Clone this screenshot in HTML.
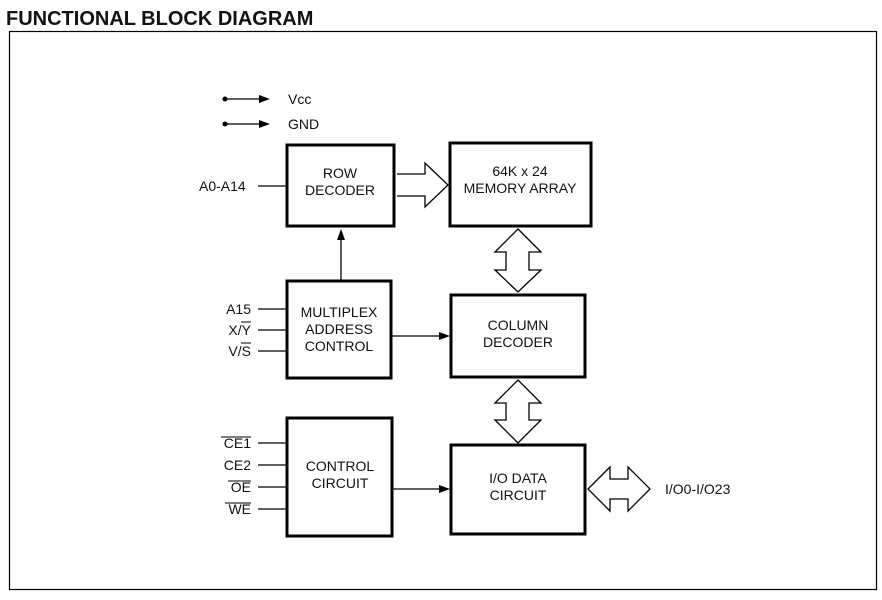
<!DOCTYPE html>
<html><head><style>
body{margin:0;background:#fff;}
svg text{font-family:"Liberation Sans",sans-serif;font-size:14px;fill:#111;}
</style></head><body>
<svg width="882" height="595" viewBox="0 0 882 595" xmlns="http://www.w3.org/2000/svg">
<text x="6" y="25" style="font-size:20px;font-weight:bold">FUNCTIONAL BLOCK DIAGRAM</text>
<rect x="9.5" y="31.5" width="867" height="558" fill="none" stroke="#000" stroke-width="1.2"/>
<g fill="none" stroke="#000" stroke-width="3">
<rect x="287" y="145" width="107" height="81"/>
<rect x="450" y="143" width="141" height="83"/>
<rect x="287" y="281" width="104" height="97"/>
<rect x="451" y="295" width="134" height="82"/>
<rect x="287" y="418" width="105" height="118"/>
<rect x="451" y="445" width="134" height="89"/>
</g>
<g fill="none" stroke="#000" stroke-width="1.3">
<path d="M397 174H425V163L448 185L425 207V196H397"/>
<path d="M518 229L541 252H529V270H541L518 292L495 270H506V252H495Z"/>
<path d="M518 380L541 403H529V420H541L518 443L495 420H506V403H495Z"/>
<path d="M588 489L610 467V479H628V467L650 489L628 511V499H610V511Z"/>
<line x1="225" y1="99" x2="262" y2="99"/>
<line x1="225" y1="124" x2="262" y2="124"/>
<line x1="258" y1="186" x2="287" y2="186"/>
<line x1="341" y1="281" x2="341" y2="236"/>
<line x1="391" y1="336" x2="442" y2="336"/>
<line x1="392" y1="489" x2="442" y2="489"/>
<line x1="258" y1="309" x2="287" y2="309"/>
<line x1="258" y1="330" x2="287" y2="330"/>
<line x1="258" y1="351" x2="287" y2="351"/>
<line x1="258" y1="443" x2="287" y2="443"/>
<line x1="258" y1="465" x2="287" y2="465"/>
<line x1="258" y1="487" x2="287" y2="487"/>
<line x1="258" y1="509" x2="287" y2="509"/>
</g>
<g fill="#000">
<circle cx="225" cy="99" r="2.5"/><circle cx="225" cy="124" r="2.5"/>
<path d="M270 99L259 95V103Z"/><path d="M270 124L259 120V128Z"/>
<path d="M341 229L337 240H345Z"/>
<path d="M450 336L439 332V340Z"/>
<path d="M450 489L439 485V493Z"/>
</g>
<text x="288" y="104">Vcc</text>
<text x="288" y="129">GND</text>
<text x="199" y="191">A0-A14</text>
<g text-anchor="middle">
<text x="340" y="178">ROW</text><text x="340" y="195">DECODER</text>
<text x="520" y="176">64K x 24</text><text x="520" y="193">MEMORY ARRAY</text>
<text x="339" y="317">MULTIPLEX</text><text x="339" y="334">ADDRESS</text><text x="339" y="351">CONTROL</text>
<text x="518" y="330">COLUMN</text><text x="518" y="347">DECODER</text>
<text x="340" y="471">CONTROL</text><text x="340" y="488">CIRCUIT</text>
<text x="518" y="483">I/O DATA</text><text x="518" y="500">CIRCUIT</text>
</g>
<g text-anchor="end">
<text x="251" y="314">A15</text>
<text x="251" y="335">X/Y</text>
<text x="251" y="356">V/S</text>
<text x="251" y="448">CE1</text>
<text x="251" y="470">CE2</text>
<text x="251" y="492">OE</text>
<text x="251" y="514">WE</text>
</g>
<g stroke="#000" stroke-width="1">
<line x1="241" y1="322" x2="251" y2="322"/>
<line x1="241" y1="343" x2="251" y2="343"/>
<line x1="221" y1="437" x2="251" y2="437"/>
<line x1="228" y1="481" x2="251" y2="481"/>
<line x1="225" y1="503" x2="251" y2="503"/>
</g>
<text x="665" y="494">I/O0-I/O23</text>
</svg>
</body></html>
